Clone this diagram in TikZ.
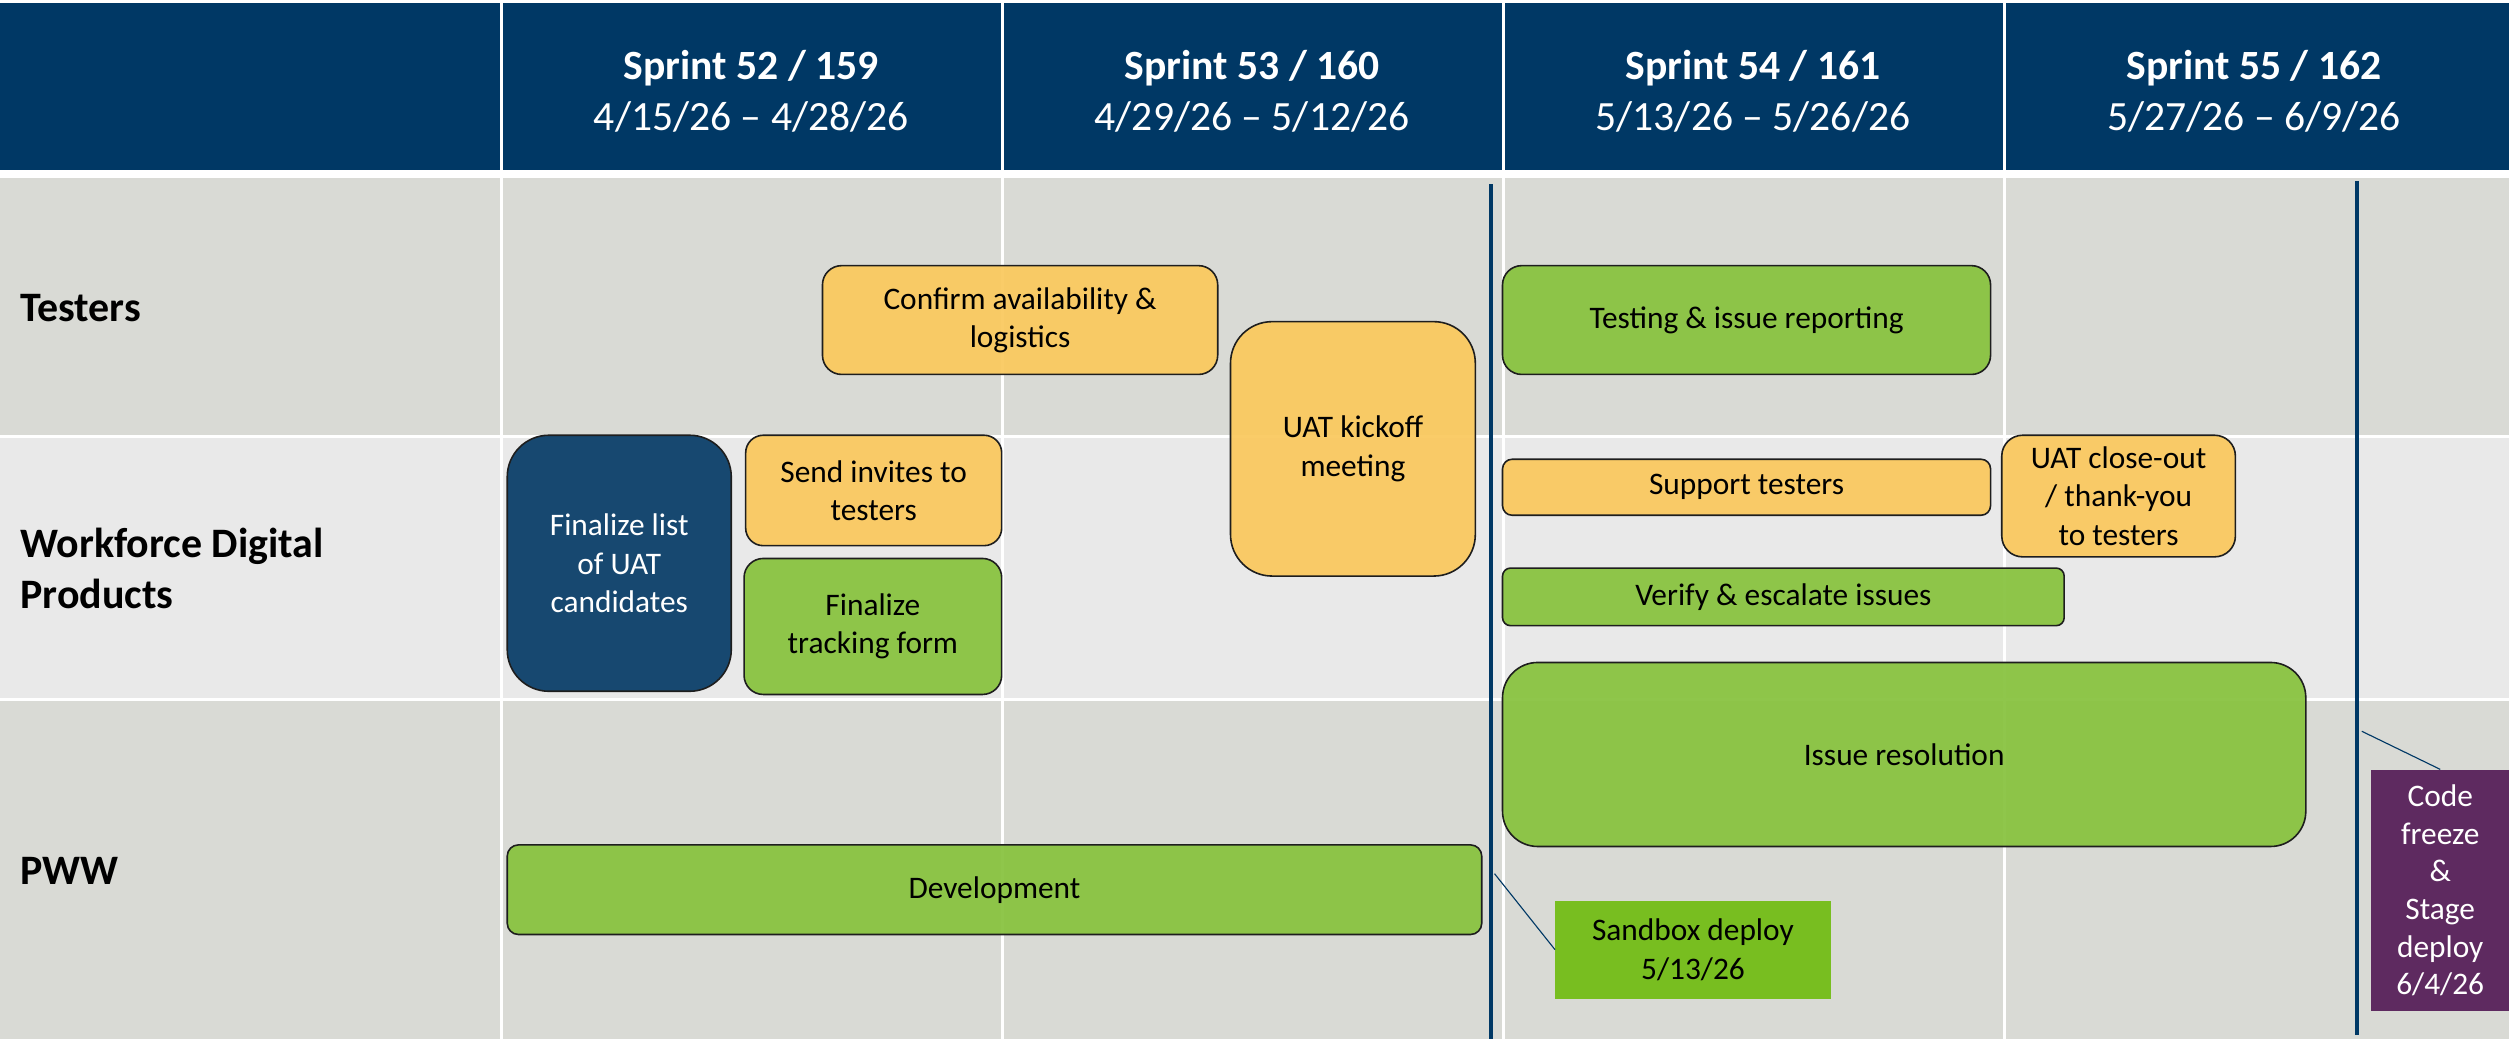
\documentclass[tikz,border=0pt]{standalone}
\usepackage{fontspec}
\setmainfont{Carlito}
\definecolor{hdrnavy}{RGB}{0,56,101}
\definecolor{rowdark}{RGB}{217,218,213}
\definecolor{rowlight}{RGB}{233,233,233}
\definecolor{uyellow}{RGB}{250,201,95}
\definecolor{ugreen}{RGB}{137,195,64}
\definecolor{unavy}{RGB}{23,72,112}
\definecolor{sbgreen}{RGB}{120,190,32}
\definecolor{upurple}{RGB}{94,42,96}
\definecolor{boxline}{RGB}{30,30,30}
\newcommand{\bodyfnt}{\fontsize{19.6}{24}\selectfont}
\begin{document}
\begin{tikzpicture}[x=1pt,y=-1pt,
  taskbox/.style={draw=boxline, line width=1pt, align=center, inner sep=0pt,
    font=\bodyfnt, fill opacity=0.94, text opacity=1},
  ybox/.style={taskbox, fill=uyellow},
  gbox/.style={taskbox, fill=ugreen},
  nbox/.style={taskbox, fill=unavy, fill opacity=1, text=white},
  milebox/.style={align=center, inner sep=0pt, font=\bodyfnt},
  hdrtext/.style={align=center, text=white, font=\fontsize{26}{32}\selectfont},
  rowlabel/.style={anchor=west, align=left, inner sep=0pt, font=\bfseries\fontsize{26.2}{32}\selectfont},
  sepline/.style={white, line width=2pt},
  milestone/.style={hdrnavy, line width=2.6pt},
  callout/.style={hdrnavy, line width=0.7pt}
]
\useasboundingbox (0,0) rectangle (1568,649);
\fill[white] (0,0) rectangle (1568,649);
% header
\fill[hdrnavy] (0,2) rectangle (1568,106.5);
% rows
\fill[rowdark] (0,111) rectangle (1568,272);
\fill[rowlight] (0,274) rectangle (1568,436);
\fill[rowdark] (0,438) rectangle (1568,649);
% column separators
\foreach \xx in {313.5,626.5,939.5,1252.5}{
  \draw[sepline] (\xx,0) -- (\xx,649);
}
% header texts
\node[hdrtext] (h52) at (469.5,57) {{\bfseries Sprint 52 / 159}\\4/15/26 – 4/28/26};
\node[hdrtext] (h53) at (782.5,57) {{\bfseries Sprint 53 / 160}\\4/29/26 – 5/12/26};
\node[hdrtext] (h54) at (1095.5,57) {{\bfseries Sprint 54 / 161}\\5/13/26 – 5/26/26};
\node[hdrtext] (h55) at (1408.5,57) {{\bfseries Sprint 55 / 162}\\5/27/26 – 6/9/26};
% row labels
\node[rowlabel] (lt) at (12.5,192.5) {Testers};
\node[rowlabel] (lw) at (12.5,355) {Workforce Digital\\Products};
\node[rowlabel] (lp) at (12.5,544) {PWW};
% tasks
\node[ybox, rounded corners=12pt, minimum width=247pt, minimum height=68pt] (confirm) at (637.5,200) {Confirm availability \&\\logistics};
\node[ybox, rounded corners=26pt, minimum width=153pt, minimum height=159pt] (kickoff) at (845.5,280.5) {UAT kickoff\\meeting};
\node[nbox, rounded corners=26pt, minimum width=140pt, minimum height=160pt] (finlist) at (387,352) {Finalize list\\of UAT\\candidates};
\node[ybox, rounded corners=11pt, minimum width=160pt, minimum height=69pt] (invites) at (546,306.5) {Send invites to\\testers};
\node[gbox, rounded corners=12pt, minimum width=161pt, minimum height=85pt] (tracking) at (545.5,391.5) {Finalize\\tracking form};
\node[gbox, rounded corners=12pt, minimum width=305pt, minimum height=68pt] (testing) at (1091.5,200) {Testing \& issue reporting};
\node[ybox, rounded corners=6pt, minimum width=305pt, minimum height=35pt] (support) at (1091.5,304.5) {Support testers};
\node[ybox, rounded corners=13pt, minimum width=146pt, minimum height=76pt] (closeout) at (1324,310) {UAT close-out\\/ thank-you\\to testers};
\node[gbox, rounded corners=5pt, minimum width=351pt, minimum height=36pt] (verify) at (1114.5,373) {Verify \& escalate issues};
\node[gbox, rounded corners=22pt, minimum width=502pt, minimum height=115pt] (issue) at (1190,471.5) {Issue resolution};
\node[gbox, rounded corners=7pt, minimum width=609pt, minimum height=56pt] (dev) at (621.5,556) {Development};
% milestone lines
\coordinate (m1top) at (932,115);
\coordinate (m1bot) at (932,649);
\coordinate (m2top) at (1473,113);
\coordinate (m2bot) at (1473,647);
\draw[milestone] (m1top) -- (m1bot);
\draw[milestone] (m2top) -- (m2bot);
% milestone labels
\node[milebox, fill=sbgreen, minimum width=172pt, minimum height=61pt] (sandbox) at (1058,593.5) {Sandbox deploy\\5/13/26};
\node[milebox, fill=upurple, text=white, minimum width=86pt, minimum height=151pt, font=\fontsize{19.6}{23.5}\selectfont] (freeze) at (1525,556.5) {Code\\freeze\\\&\\Stage\\deploy\\6/4/26};
\coordinate (c1) at (934,546);
\coordinate (c2) at (1476,457);
\draw[callout] (c1) -- (sandbox.west);
\draw[callout] (c2) -- (freeze.north);
\end{tikzpicture}
\end{document}
